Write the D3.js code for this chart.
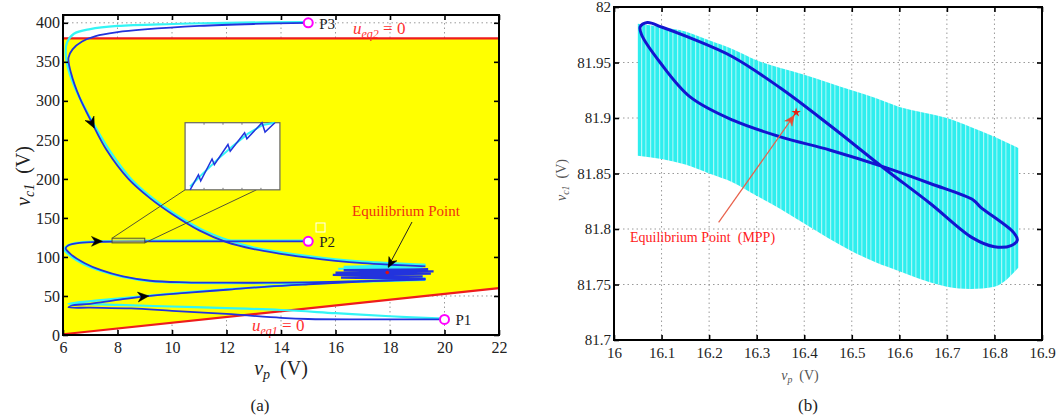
<!DOCTYPE html>
<html><head><meta charset="utf-8">
<script src="https://cdn.jsdelivr.net/npm/d3@7"></script>
<style>
body{margin:0;background:#fff}
svg{display:block}
</style>
</head><body>
<svg id="fig" width="1059" height="419" font-family="Liberation Serif, Times New Roman, DejaVu Serif, serif"></svg>
<script>
// ---------- panel (a): phase-plane trajectories ----------
const aXTicks = [6, 8, 10, 12, 14, 16, 18, 20, 22];
const aYTicks = [0, 50, 100, 150, 200, 250, 300, 350, 400];
const ueq2Level = 380;                      // upper switching boundary
const ueq1Ends = [[6, 1], [22, 60]];        // lower switching boundary

const startPoints = [
  {name: "P1", vp: 20, vc: 20},
  {name: "P2", vp: 15, vc: 120},
  {name: "P3", vp: 15, vc: 400}
];

const p3Cyan = [[15,401],[12,400],[10,398.5],[8,396],[7,392],[6.4,386],[6.15,375],[6.1,362],[6.2,340],[6.5,312],[7.1,272],[7.7,237],[8.5,200],[9.3,175],[10.1,155],[11.1,135],[12.1,121],[13,112],[14,106],[15,101],[16,97],[17,94],[18,92],[19.3,90]];
const p3Blue = [[15,400],[13,398.5],[11,396],[9,391.5],[8,388],[7.2,383],[6.7,376],[6.35,366],[6.2,355],[6.3,335],[6.6,305],[7.06,272],[7.6,237],[8.4,200],[9.2,175],[10,155],[11,134],[12,119],[13,110],[14,104],[15,99],[16,95],[17,92],[18,90],[19.3,88]];

const p2Cyan = [[15,121],[12,121],[9,121],[7.4,120],[6.5,118],[6.15,114],[6.05,110],[6.25,102],[6.75,91],[7.4,82],[8.2,74.5],[9.2,69],[10.5,67],[12,66.5],[13.5,66.5],[15,67],[17,68.5],[19.3,70.5]];
const p2Blue = [[15,120],[12,120],[9,120],[7.5,119.5],[6.6,118],[6.2,115],[6.1,111],[6.3,103],[6.8,92],[7.4,83],[8.2,75],[9.2,69.5],[10.5,67.5],[12,67],[13.5,67],[15,67.5],[17,69],[19.3,71]];

const p1Cyan = [[20,21],[18,24],[16,28],[14,32],[12,34.5],[10,36.5],[8,38.5],[6.6,40],[6.2,40],[6.5,41.5],[7.5,45],[9,50],[10.5,54.5],[12,58.5],[13.5,62],[15,65.5],[17,69],[19.3,72.5]];
const p1Blue = [[20,20],[17,20],[15,20.5],[14,22],[12,27],[10,31],[8.5,34],[7,35],[6.2,35.5],[6.3,37.5],[7,40],[8,45],[9,49.5],[10.5,54],[12,58],[13.5,62],[15,65],[17,68.5],[19.3,72]];

// settling oscillation around the equilibrium
const eqCyan = [[19.3,90],[16.3,87.5],[19.2,86.5],[16.1,85],[18.8,85.5],[16.6,84],[19,84]];
const eqBlue = [[19.3,72],[16.2,73.5],[19.2,75],[15.9,77],[19.5,78.5],[16,80],[19.6,81.5],[16.3,83],[19.4,84],[16.8,82.5],[18.9,81],[17.2,81.5],[18.3,80.5],[17.9,80.5]];
const eqPointA = [17.9, 80];

// zoomed detail of the P2 branch
const insetDomainX = [7.8, 9.0];
const insetDomainY = [117, 123];
const insetBlue = [[7.84,117],[7.95,118.35],[7.98,117.8],[8.13,119.76],[8.16,119.25],[8.34,121.05],[8.37,120.45],[8.56,122.1],[8.59,121.56],[8.79,123],[8.83,122.16],[8.96,123]];
const insetCyan = [[7.84,117.3],[8.0,118.4],[8.2,119.7],[8.4,120.9],[8.6,122],[8.8,122.8],[8.96,123]];

// ---------- panel (b): steady-state detail ----------
const bXTicks = [16, 16.1, 16.2, 16.3, 16.4, 16.5, 16.6, 16.7, 16.8, 16.9];
const bYTicks = [81.7, 81.75, 81.8, 81.85, 81.9, 81.95, 82];
const bandX     = [16.05,16.1,16.15,16.2,16.25,16.3,16.35,16.4,16.45,16.5,16.55,16.6,16.65,16.7,16.75,16.8,16.85];
const bandUpper = [81.985,81.982,81.978,81.97,81.962,81.952,81.945,81.939,81.932,81.925,81.918,81.91,81.905,81.9,81.892,81.883,81.873];
const bandLower = [81.866,81.863,81.858,81.85,81.842,81.83,81.818,81.805,81.792,81.78,81.77,81.762,81.754,81.748,81.746,81.748,81.765];
const limitCycle = [[16.055,81.982],[16.07,81.986],[16.1,81.982],[16.155,81.973],[16.25,81.955],[16.35,81.927],[16.455,81.893],[16.567,81.855],[16.665,81.823],[16.754,81.792],[16.8,81.784],[16.835,81.785],[16.848,81.79],[16.84,81.797],[16.77,81.82],[16.756,81.826],[16.665,81.841],[16.567,81.856],[16.455,81.871],[16.35,81.883],[16.25,81.898],[16.16,81.919],[16.097,81.95],[16.058,81.975]];
const eqPointB = [16.383, 81.905];
const eqLabelB = [16.22, 81.806];

// ---------- drawing ----------
const FONT = "Liberation Serif, Times New Roman, DejaVu Serif, serif";
const svg = d3.select("#fig");
svg.append("rect").attr("width",1059).attr("height",419).attr("fill","#fff");

const xa = d3.scaleLinear([6, 22], [63, 499]);
const ya = d3.scaleLinear([0, 410], [335, 15]);
const xb = d3.scaleLinear([16, 16.9], [614, 1042]);
const yb = d3.scaleLinear([81.7, 82], [340, 7]);

const BLUE = "#2233dd", CYAN = "#33f5f5", RED = "#ee1c1c";

function grid(g, x, y, xt, yt) {
  const [x0, x1] = x.range(), [y0, y1] = y.range();
  const xs = xt.filter(d => x(d) > x0 + 1 && x(d) < x1 - 1);
  const ys = yt.filter(d => y(d) < y0 - 1 && y(d) > y1 + 1);
  g.append("g").selectAll("line").data(xs).join("line")
    .attr("x1", d => x(d)).attr("x2", d => x(d)).attr("y1", y0).attr("y2", y1);
  g.append("g").selectAll("line").data(ys).join("line")
    .attr("y1", d => y(d)).attr("y2", d => y(d)).attr("x1", x0).attr("x2", x1);
  g.selectAll("line").attr("stroke", "#9a9a9a").attr("stroke-width", 1).attr("stroke-dasharray", "1.5,3");
}

function frame(g, x, y, xt, yt, fs) {
  const [x0, x1] = x.range(), [y0, y1] = y.range();
  const h = y0 - y1, w = x1 - x0;
  const tk = 5;
  const bx = g.append("g").attr("transform", `translate(0,${y0})`)
    .call(d3.axisBottom(x).tickValues(xt).tickSizeInner(-tk).tickSizeOuter(0).tickPadding(7).tickFormat(d3.format("")));
  const tx = g.append("g").attr("transform", `translate(0,${y1})`)
    .call(d3.axisTop(x).tickValues(xt).tickSizeInner(-tk).tickSizeOuter(0).tickFormat(""));
  const ly = g.append("g").attr("transform", `translate(${x0},0)`)
    .call(d3.axisLeft(y).tickValues(yt).tickSizeInner(-tk).tickSizeOuter(0).tickPadding(3).tickFormat(d3.format("")));
  const ry = g.append("g").attr("transform", `translate(${x1},0)`)
    .call(d3.axisRight(y).tickValues(yt).tickSizeInner(-tk).tickSizeOuter(0).tickFormat(""));
  [bx, tx, ly, ry].forEach(a => {
    a.attr("font-family", FONT);
    a.select(".domain").remove();
    a.selectAll("line").attr("stroke", "#000").attr("stroke-width", 1.6);
    a.selectAll("text").attr("font-size", fs).attr("fill", "#222");
  });
  g.append("rect").attr("x", x0).attr("y", y1).attr("width", w).attr("height", h)
    .attr("fill", "none").attr("stroke", "#000").attr("stroke-width", 2);
}

function arrowHead(g, p0, p1, size, color) {
  const ang = Math.atan2(p1[1] - p0[1], p1[0] - p0[0]) * 180 / Math.PI;
  g.append("path")
    .attr("d", `M0,0 L${-size},${-size*0.45} L${-size*0.7},0 L${-size},${size*0.45}Z`)
    .attr("transform", `translate(${p1[0]},${p1[1]}) rotate(${ang})`)
    .attr("fill", color).attr("stroke", color).attr("stroke-width", 0.5);
}

// ===== panel (a) =====
const ga = svg.append("g");
grid(ga, xa, ya, aXTicks, aYTicks);

const lowAt = v => ueq1Ends[0][1] + (ueq1Ends[1][1] - ueq1Ends[0][1]) * (v - ueq1Ends[0][0]) / (ueq1Ends[1][0] - ueq1Ends[0][0]);
const region = [[6, lowAt(6)], [22, lowAt(22)], [22, ueq2Level], [6, ueq2Level]];
ga.append("path").attr("d", d3.line().x(d => xa(d[0])).y(d => ya(d[1]))(region) + "Z").attr("fill", "#ffff00");
ga.append("line").attr("x1", xa(6)).attr("x2", xa(22)).attr("y1", ya(ueq2Level)).attr("y2", ya(ueq2Level))
  .attr("stroke", RED).attr("stroke-width", 2.2);
ga.append("line").attr("x1", xa(ueq1Ends[0][0])).attr("x2", xa(ueq1Ends[1][0]))
  .attr("y1", ya(ueq1Ends[0][1])).attr("y2", ya(ueq1Ends[1][1]))
  .attr("stroke", RED).attr("stroke-width", 2.2);

const lineA = d3.line().x(d => xa(d[0])).y(d => ya(d[1])).curve(d3.curveCatmullRom.alpha(0.5));
const lineAStraight = d3.line().x(d => xa(d[0])).y(d => ya(d[1]));
[p3Cyan, p2Cyan, p1Cyan].forEach(d =>
  ga.append("path").attr("d", lineA(d)).attr("fill", "none").attr("stroke", CYAN).attr("stroke-width", 2.2));
ga.append("path").attr("d", lineAStraight(eqCyan)).attr("fill", "none").attr("stroke", CYAN).attr("stroke-width", 2);
[p3Blue, p2Blue, p1Blue].forEach(d =>
  ga.append("path").attr("d", lineA(d)).attr("fill", "none").attr("stroke", BLUE).attr("stroke-width", 1.8));
ga.append("path").attr("d", lineAStraight(eqBlue)).attr("fill", "none").attr("stroke", BLUE).attr("stroke-width", 2.2);

// direction arrows on the trajectories
arrowHead(ga, [xa(6.8), ya(290)], [xa(7.15), ya(265)], 11, "#000");
arrowHead(ga, [xa(6.8), ya(120)], [xa(7.45), ya(120)], 11, "#000");
arrowHead(ga, [xa(8.4), ya(47.5)], [xa(9.15), ya(50)], 11, "#000");

// zoom box and inset
const boxX = [7.8, 9.0], boxY = [118, 124];
ga.append("rect").attr("x", xa(boxX[0])).attr("y", ya(boxY[1])).attr("width", xa(boxX[1]) - xa(boxX[0]))
  .attr("height", ya(boxY[0]) - ya(boxY[1])).attr("fill", "#dede40").attr("fill-opacity", 0.5)
  .attr("stroke", "#555533").attr("stroke-width", 1);
const inset = {x0: xa(10.48), x1: xa(13.96), y0: ya(186), y1: ya(272)};
ga.append("line").attr("x1", xa(boxX[0])).attr("y1", ya(boxY[1])).attr("x2", inset.x0).attr("y2", inset.y0)
  .attr("stroke", "#555533").attr("stroke-width", 1);
ga.append("line").attr("x1", xa(boxX[1])).attr("y1", ya(boxY[0])).attr("x2", xa(13.1)).attr("y2", inset.y0)
  .attr("stroke", "#555533").attr("stroke-width", 1);
const xi = d3.scaleLinear(insetDomainX, [inset.x0 + 2, inset.x1 - 2]);
const yi = d3.scaleLinear(insetDomainY, [inset.y0, inset.y1]);
ga.append("rect").attr("x", inset.x0).attr("y", inset.y1).attr("width", inset.x1 - inset.x0)
  .attr("height", inset.y0 - inset.y1).attr("fill", "#fff").attr("stroke", "#666").attr("stroke-width", 1.2);
[0.2, 0.4, 0.6, 0.8].forEach(f => {
  const xx = inset.x0 + f * (inset.x1 - inset.x0);
  ga.append("line").attr("x1", xx).attr("x2", xx).attr("y1", inset.y1).attr("y2", inset.y1 + 2).attr("stroke", "#777");
  ga.append("line").attr("x1", xx).attr("x2", xx).attr("y1", inset.y0).attr("y2", inset.y0 - 2).attr("stroke", "#777");
});
const lineI = d3.line().x(d => xi(d[0])).y(d => yi(d[1]));
ga.append("path").attr("d", lineI(insetCyan)).attr("fill", "none").attr("stroke", CYAN).attr("stroke-width", 2);
ga.append("path").attr("d", lineI(insetBlue)).attr("fill", "none").attr("stroke", BLUE).attr("stroke-width", 1.5);

// equilibrium annotation
ga.append("circle").attr("cx", xa(eqPointA[0])).attr("cy", ya(eqPointA[1])).attr("r", 1.8).attr("fill", "#e01010");
ga.append("line").attr("x1", 412).attr("y1", 222).attr("x2", xa(eqPointA[0]) + 1).attr("y2", ya(eqPointA[1]) - 6)
  .attr("stroke", "#222").attr("stroke-width", 1);
arrowHead(ga, [412, 222], [xa(eqPointA[0]) + 1, ya(eqPointA[1]) - 5], 10, "#000");
ga.append("text").attr("x", 406).attr("y", 216).attr("text-anchor", "middle").attr("font-size", 15)
  .attr("fill", "#f03010").text("Equilibrium Point");

// initial conditions
ga.append("rect").attr("x", 316).attr("y", 223).attr("width", 9).attr("height", 9)
  .attr("fill", "none").attr("stroke", "#fff").attr("stroke-width", 1);
startPoints.forEach(p => {
  ga.append("circle").attr("cx", xa(p.vp)).attr("cy", ya(p.vc)).attr("r", 4.5)
    .attr("fill", "#fff").attr("stroke", "#ff00ff").attr("stroke-width", 2);
  ga.append("text").attr("x", xa(p.vp) + 11).attr("y", ya(p.vc) + 6).attr("font-size", 15)
    .attr("fill", "#222").text(p.name);
});

// boundary labels
function uLabel(g, x, y, sub) {
  const t = g.append("text").attr("x", x).attr("y", y).attr("font-size", 17).attr("fill", "#ff3030");
  t.append("tspan").attr("font-style", "italic").text("u");
  t.append("tspan").attr("font-style", "italic").attr("font-size", 12).attr("dy", 4).text(sub);
  t.append("tspan").attr("dy", -4).text(" = 0");
}
uLabel(ga, 353, 34, "eq2");
uLabel(ga, 252, 331, "eq1");

frame(ga, xa, ya, aXTicks, aYTicks, 16);

// axis titles
function varLabel(g, x, y, main, sub, fs, rot, color) {
  const t = g.append("text").attr("x", x).attr("y", y).attr("font-size", fs).attr("fill", color)
    .attr("text-anchor", "middle");
  if (rot) t.attr("transform", `rotate(-90,${x},${y})`);
  t.append("tspan").attr("font-style", "italic").text(main);
  t.append("tspan").attr("font-style", "italic").attr("font-size", fs * 0.7).attr("dy", fs * 0.22).text(sub);
  t.append("tspan").attr("dy", -fs * 0.22).text("\u2002(V)");
}
varLabel(ga, 281, 375, "v", "p", 20, false, "#222");
varLabel(ga, 30, 176, "v", "c1", 20, true, "#222");
ga.append("text").attr("x", 260).attr("y", 411).attr("text-anchor", "middle").attr("font-size", 17)
  .attr("fill", "#222").text("(a)");

// ===== panel (b) =====
const gb = svg.append("g");
const defs = svg.append("defs");
const pat = defs.append("pattern").attr("id", "streaks").attr("patternUnits", "userSpaceOnUse")
  .attr("width", 9).attr("height", 60);
pat.append("rect").attr("width", 9).attr("height", 60).attr("fill", "#2eeeee");
pat.append("rect").attr("x", 2).attr("width", 1.2).attr("height", 60).attr("fill", "#a8f8f8");
pat.append("rect").attr("x", 6).attr("width", 1.6).attr("height", 60).attr("fill", "#7ff4f4");

grid(gb, xb, yb, bXTicks, bYTicks);
const band = bandX.map((v, i) => ({x: v, hi: bandUpper[i], lo: bandLower[i]}));
gb.append("path").attr("d", d3.area().x(d => xb(d.x)).y0(d => yb(d.lo)).y1(d => yb(d.hi))
  .curve(d3.curveMonotoneX)(band)).attr("fill", "url(#streaks)");
gb.append("path").attr("d", d3.line().x(d => xb(d[0])).y(d => yb(d[1])).curve(d3.curveCatmullRomClosed.alpha(0.5))(limitCycle))
  .attr("fill", "none").attr("stroke", "#1414d0").attr("stroke-width", 3);

// equilibrium (MPP) annotation
const ex = xb(eqPointB[0]), ey = yb(eqPointB[1]);
gb.append("line").attr("x1", xb(eqLabelB[0])).attr("y1", yb(eqLabelB[1])).attr("x2", ex - 2).attr("y2", ey + 3)
  .attr("stroke", "#e8604a").attr("stroke-width", 1.2);
arrowHead(gb, [xb(eqLabelB[0]), yb(eqLabelB[1])], [ex - 2, ey + 3], 10, "#e84a30");
gb.append("path").attr("d", d3.symbol(d3.symbolStar, 28)()).attr("transform", `translate(${ex},${ey})`)
  .attr("fill", "#e82010");
gb.append("text").attr("x", 630).attr("y", 242).attr("font-size", 14).attr("fill", "#ff2020")
  .attr("xml:space", "preserve").text("Equilibrium Point  (MPP)");

frame(gb, xb, yb, bXTicks, bYTicks, 15);
varLabel(gb, 800, 380, "v", "p", 14, false, "#555");
varLabel(gb, 566, 180, "v", "c1", 14, true, "#555");
gb.append("text").attr("x", 808).attr("y", 411).attr("text-anchor", "middle").attr("font-size", 17)
  .attr("fill", "#222").text("(b)");

svg.selectAll("text").attr("font-family", FONT);
</script>
</body></html>
